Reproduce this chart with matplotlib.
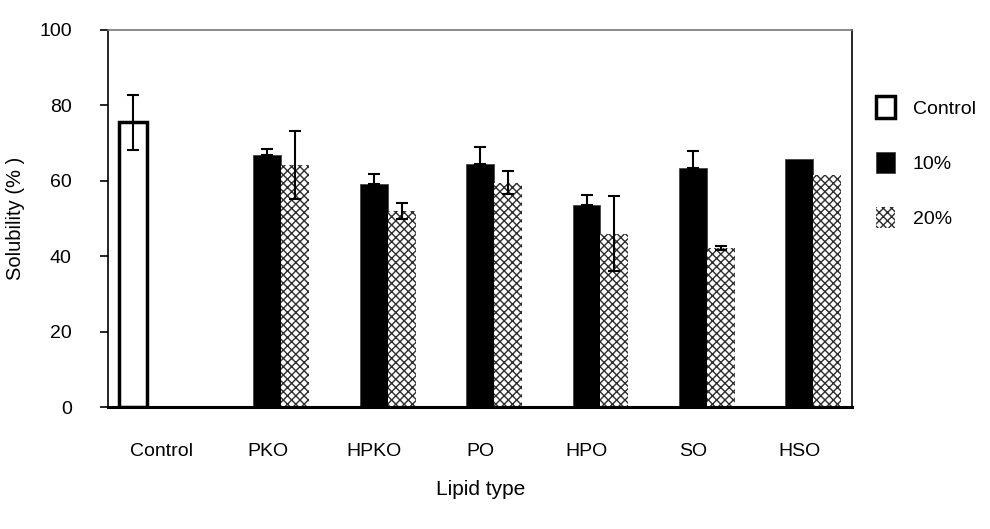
import numpy as np
import matplotlib
matplotlib.use("Agg")
import matplotlib.pyplot as plt

plt.rcParams['font.family'] = ['Liberation Sans', 'DejaVu Sans']

categories = ["Control", "PKO", "HPKO", "PO", "HPO", "SO", "HSO"]
control_val = [75.5, 0, 0, 0, 0, 0, 0]
control_err = [7.3, 0, 0, 0, 0, 0, 0]
p10_val = [0, 66.9, 59.1, 64.5, 53.5, 63.5, 65.8]
p10_err = [0, 1.5, 2.6, 4.4, 2.6, 4.3, 0]
p20_val = [0, 64.1, 52.0, 59.5, 46.0, 42.2, 61.6]
p20_err = [0, 9.0, 2.1, 3.0, 10.0, 0.6, 0]

fig = plt.figure(figsize=(9.9, 5.29), dpi=100)
ax = fig.add_axes([0.109, 0.2306, 0.752, 0.7128])

x = np.arange(len(categories))
w = 0.263
ekw = dict(fmt="none", elinewidth=1.5, capthick=1.5, ecolor="black", capsize=4.5)

ax.bar(x[:1] - w, control_val[:1], w, color="white", edgecolor="black", linewidth=2.5,
       label="Control")
ax.bar(x[1:], p10_val[1:], w, color="black", edgecolor="#444444", linewidth=0.6,
       label="10%")
ax.bar(x[1:] + w, p20_val[1:], w, color="white", edgecolor="#2e2e2e", hatch="xxxx",
       linewidth=0, label="20%")

# error bars, only where there is one
ax.errorbar(x[:1] - w, control_val[:1], yerr=control_err[:1], **ekw)
m10 = np.array(p10_err) > 0
ax.errorbar(x[m10], np.array(p10_val)[m10], yerr=[np.zeros(m10.sum()), np.array(p10_err)[m10]], **ekw)
m20 = np.array(p20_err) > 0
ax.errorbar(x[m20] + w, np.array(p20_val)[m20], yerr=np.array(p20_err)[m20], **ekw)

ax.set_xlim(-0.5, len(categories) - 0.5)
ax.set_ylim(0, 100)
ax.set_yticks([0, 20, 40, 60, 80, 100])
ax.set_xticks(x)
ax.set_xticklabels(categories)
ax.tick_params(axis="x", length=0, pad=26, labelsize=14)
ax.tick_params(axis="y", direction="out", length=6, width=1.2, pad=20, labelsize=14)

ax.spines["top"].set_color("#777777")
ax.spines["top"].set_linewidth(1.2)
ax.spines["right"].set_linewidth(1.2)
ax.spines["left"].set_linewidth(1.2)
ax.spines["bottom"].set_linewidth(2.2)

ax.set_ylabel("Solubility (% )", fontsize=14.5, labelpad=10)
ax.set_xlabel("Lipid type", fontsize=15, labelpad=14)

ax.legend(loc="upper left", bbox_to_anchor=(1.008, 0.87), frameon=False, fontsize=14,
          handlelength=1.0, handleheight=1.3, labelspacing=1.75, handletextpad=0.9)

fig.savefig("out.png", dpi=100)
